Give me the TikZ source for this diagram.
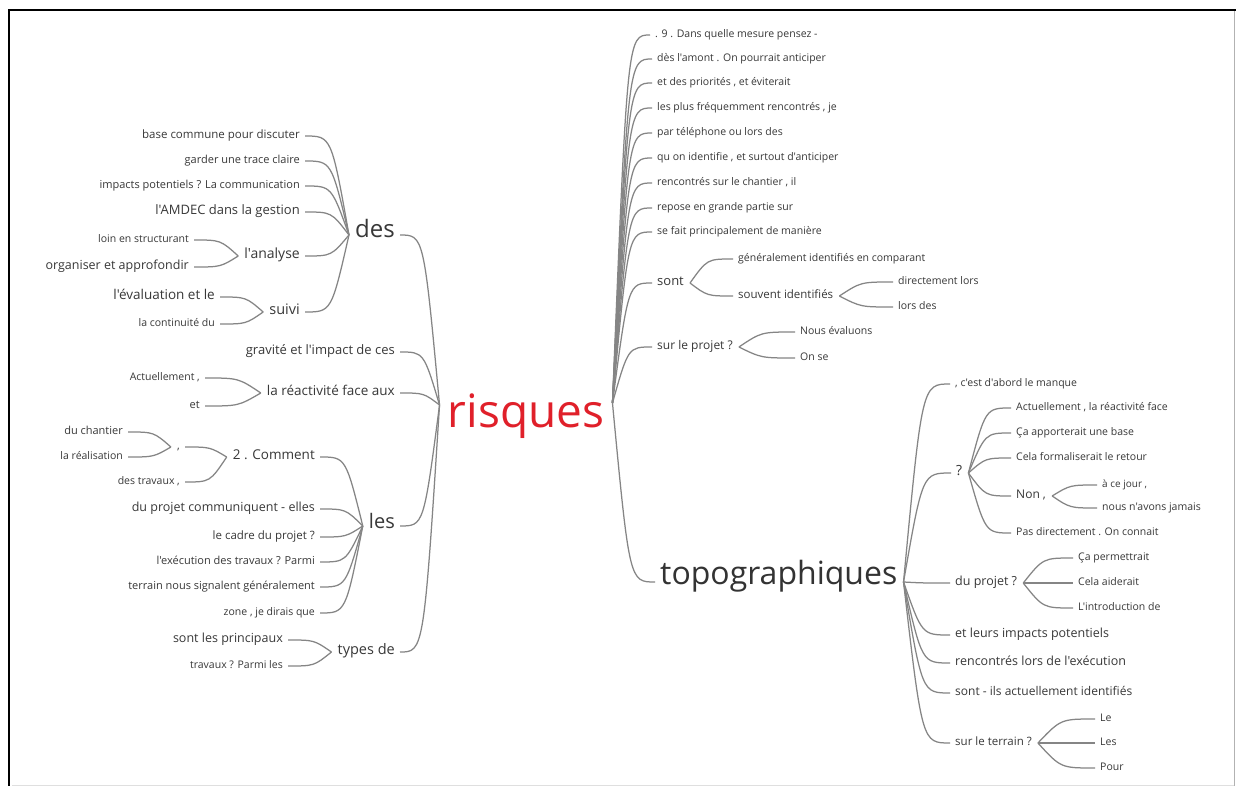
\documentclass[tikz,border=0pt]{standalone}
\usepackage{fontspec}
\newfontfamily\treefont{Open Sans}
\usetikzlibrary{calc}
\definecolor{linkgray}{HTML}{858585}
\definecolor{wordgray}{HTML}{383838}
\definecolor{rootred}{HTML}{E0202A}
\tikzset{
  lw/.style={anchor=mid west, inner sep=0pt, text=wordgray},
  le/.style={anchor=mid east, inner sep=0pt, text=wordgray},
  fs/.style={font=\treefont\fontsize{#1}{#1}\selectfont},
  link/.style={draw=linkgray, line width=1.25pt},
}
% curved branch: steep at the parent, horizontal at the child
\newcommand{\branch}[2]{\draw[link] let \p1=(#1), \p2=(#2) in
  (\p1) .. controls ({\x1+0.4*(\x2-\x1)},\y2) and ({\x1+0.4*(\x2-\x1)},\y2) .. (\p2);}
\newcommand{\leftbranch}[2]{\branch{[xshift=-6pt]#1.mid west}{[xshift=5pt]#2.mid east}}
\newcommand{\rightbranch}[2]{\branch{[xshift=6pt]#1.mid east}{[xshift=-5pt]#2.mid west}}
\begin{document}
\begin{tikzpicture}[x=1pt,y=-1pt]
\useasboundingbox (0,0) rectangle (1236,786);
\fill[white] (0,0) rectangle (1236,786);
% frame
\draw[gray!60, line width=1pt] (1234,11) -- (1234,786);
\draw[gray!25, line width=0.8pt] (12,785) -- (1234,785);
\draw[black, line width=2.6pt] (1236,10) -- (9,10) -- (9,786);

% root word
\node[anchor=base, inner sep=0pt, text=rootred, fs=46] (risq) at (526,427) {risques};
\coordinate (rL) at ([shift={(-8pt,22pt)}]risq.base west);
\coordinate (rR) at ([shift={(8pt,24pt)}]risq.base east);

% ---- left side ----
\node[le, fs=24] (des) at (395,235) {des};
\node[le, fs=13] (grav) at (395,352) {gravité et l'impact de ces};
\node[le, fs=13.5] (reac) at (395,393) {la réactivité face aux};
\node[le, fs=20] (les) at (395,526) {les};
\node[le, fs=14.5] (types) at (395,652) {types de};

\node[le, fs=11.5] (d1) at (300,136) {base commune pour discuter};
\node[le, fs=11] (d2) at (300,161) {garder une trace claire};
\node[le, fs=11] (d3) at (300,186) {impacts potentiels ? La communication};
\node[le, fs=13] (d4) at (300,212) {l'AMDEC dans la gestion};
\node[le, fs=14] (ana) at (300,256) {l'analyse};
\node[le, fs=14.5] (suivi) at (300,312) {suivi};
\node[le, fs=10.5] (ana1) at (189,240) {loin en structurant};
\node[le, fs=12.5] (ana2) at (189,267) {organiser et approfondir};
\node[le, fs=13.5] (su1) at (215,297) {l'évaluation et le};
\node[le, fs=10.5] (su2) at (215,324) {la continuité du};

\node[le, fs=10.5] (re1) at (200,378) {Actuellement ,};
\node[le, fs=11] (re2) at (200,406) {et};

\node[le, fs=13.5] (com) at (315,457) {2 . Comment};
\node[le, fs=11] (comma) at (180,447) {,};
\node[le, fs=11] (ch1) at (123,432) {du chantier};
\node[le, fs=10.5] (ch2) at (123,457) {la réalisation};
\node[le, fs=10.5] (tra) at (180,482) {des travaux ,};
\node[le, fs=12.5] (l2) at (315,509) {du projet communiquent - elles};
\node[le, fs=11.5] (l3) at (315,537) {le cadre du projet ?};
\node[le, fs=11] (l4) at (315,562) {l'exécution des travaux ? Parmi};
\node[le, fs=11] (l5) at (315,587) {terrain nous signalent généralement};
\node[le, fs=10.5] (l6) at (315,613) {zone , je dirais que};

\node[le, fs=12.5] (t1) at (283,640) {sont les principaux};
\node[le, fs=10.5] (t2) at (283,666) {travaux ? Parmi les};

% ---- right side ----
\node[lw, fs=10.5] (r1) at (655,35) {. 9 . Dans quelle mesure pensez -};
\node[lw, fs=10.5] (r2) at (657,59) {dès l'amont . On pourrait anticiper};
\node[lw, fs=10.5] (r3) at (657,83) {et des priorités , et éviterait};
\node[lw, fs=10.5] (r4) at (657,108) {les plus fréquemment rencontrés , je};
\node[lw, fs=10.5] (r5) at (657,133) {par téléphone ou lors des};
\node[lw, fs=10.5] (r6) at (657,158) {qu on identifie , et surtout d'anticiper};
\node[lw, fs=10.5] (r7) at (657,183) {rencontrés sur le chantier , il};
\node[lw, fs=10.5] (r8) at (657,208) {repose en grande partie sur};
\node[lw, fs=10.5] (r9) at (657,232) {se fait principalement de manière};
\node[lw, fs=13] (sont) at (657,283) {sont};
\node[lw, fs=10.5] (so1) at (738,259) {généralement identifiés en comparant};
\node[lw, fs=11.5] (so2) at (738,296) {souvent identifiés};
\node[lw, fs=10.5] (so21) at (898,282) {directement lors};
\node[lw, fs=10.5] (so22) at (898,307) {lors des};
\node[lw, fs=12] (proj) at (657,347) {sur le projet ?};
\node[lw, fs=10.5] (p1) at (800,332) {Nous évaluons};
\node[lw, fs=10.5] (p2) at (800,358) {On se};
\node[lw, fs=32, text=black!80] (topo) at (660,582) {topographiques};

\node[lw, fs=10.5] (q0) at (955,384) {, c'est d'abord le manque};
\node[lw, fs=14] (qm) at (956,473) {?};
\node[lw, fs=10.5] (qm1) at (1016,408) {Actuellement , la réactivité face};
\node[lw, fs=10.5] (qm2) at (1016,433) {Ça apporterait une base};
\node[lw, fs=10.5] (qm3) at (1016,458) {Cela formaliserait le retour};
\node[lw, fs=12] (non) at (1016,496) {Non ,};
\node[lw, fs=10] (n1) at (1102,485) {à ce jour ,};
\node[lw, fs=10.5] (n2) at (1102,508) {nous n'avons jamais};
\node[lw, fs=10.5] (qm5) at (1016,533) {Pas directement . On connait};
\node[lw, fs=12.5] (dp) at (955,583) {du projet ?};
\node[lw, fs=10.5] (dp1) at (1078,558) {Ça permettrait};
\node[lw, fs=10.5] (dp2) at (1078,583) {Cela aiderait};
\node[lw, fs=10.5] (dp3) at (1078,608) {L'introduction de};
\node[lw, fs=12.5] (tp4) at (955,635) {et leurs impacts potentiels};
\node[lw, fs=12.5] (tp5) at (955,663) {rencontrés lors de l'exécution};
\node[lw, fs=12] (tp6) at (955,693) {sont - ils actuellement identifiés};
\node[lw, fs=11.5] (ter) at (955,743) {sur le terrain ?};
\node[lw, fs=10.5] (te1) at (1100,719) {Le};
\node[lw, fs=10.5] (te2) at (1100,743) {Les};
\node[lw, fs=10.5] (te3) at (1100,768) {Pour};

% ---- connectors, left ----
\foreach \c in {des,grav,reac,les,types} {\branch{rL}{[xshift=5pt]\c.mid east}}
\foreach \c in {d1,d2,d3,d4,ana,suivi} {\leftbranch{des}{\c}}
\foreach \c in {ana1,ana2} {\leftbranch{ana}{\c}}
\foreach \c in {su1,su2} {\leftbranch{suivi}{\c}}
\foreach \c in {re1,re2} {\leftbranch{reac}{\c}}
\foreach \c in {com,l2,l3,l4,l5,l6} {\leftbranch{les}{\c}}
\foreach \c in {comma,tra} {\leftbranch{com}{\c}}
\foreach \c in {ch1,ch2} {\leftbranch{comma}{\c}}
\foreach \c in {t1,t2} {\leftbranch{types}{\c}}

% ---- connectors, right ----
\foreach \c in {r1,r2,r3,r4,r5,r6,r7,r8,r9,sont,proj,topo} {\branch{rR}{[xshift=-5pt]\c.mid west}}
\foreach \c in {so1,so2} {\rightbranch{sont}{\c}}
\foreach \c in {so21,so22} {\rightbranch{so2}{\c}}
\foreach \c in {p1,p2} {\rightbranch{proj}{\c}}
\foreach \c in {q0,qm,dp,tp4,tp5,tp6,ter} {\rightbranch{topo}{\c}}
\foreach \c in {qm1,qm2,qm3,non,qm5} {\rightbranch{qm}{\c}}
\foreach \c in {n1,n2} {\rightbranch{non}{\c}}
\foreach \c in {dp1,dp2,dp3} {\rightbranch{dp}{\c}}
\foreach \c in {te1,te2,te3} {\rightbranch{ter}{\c}}
\end{tikzpicture}
\end{document}
